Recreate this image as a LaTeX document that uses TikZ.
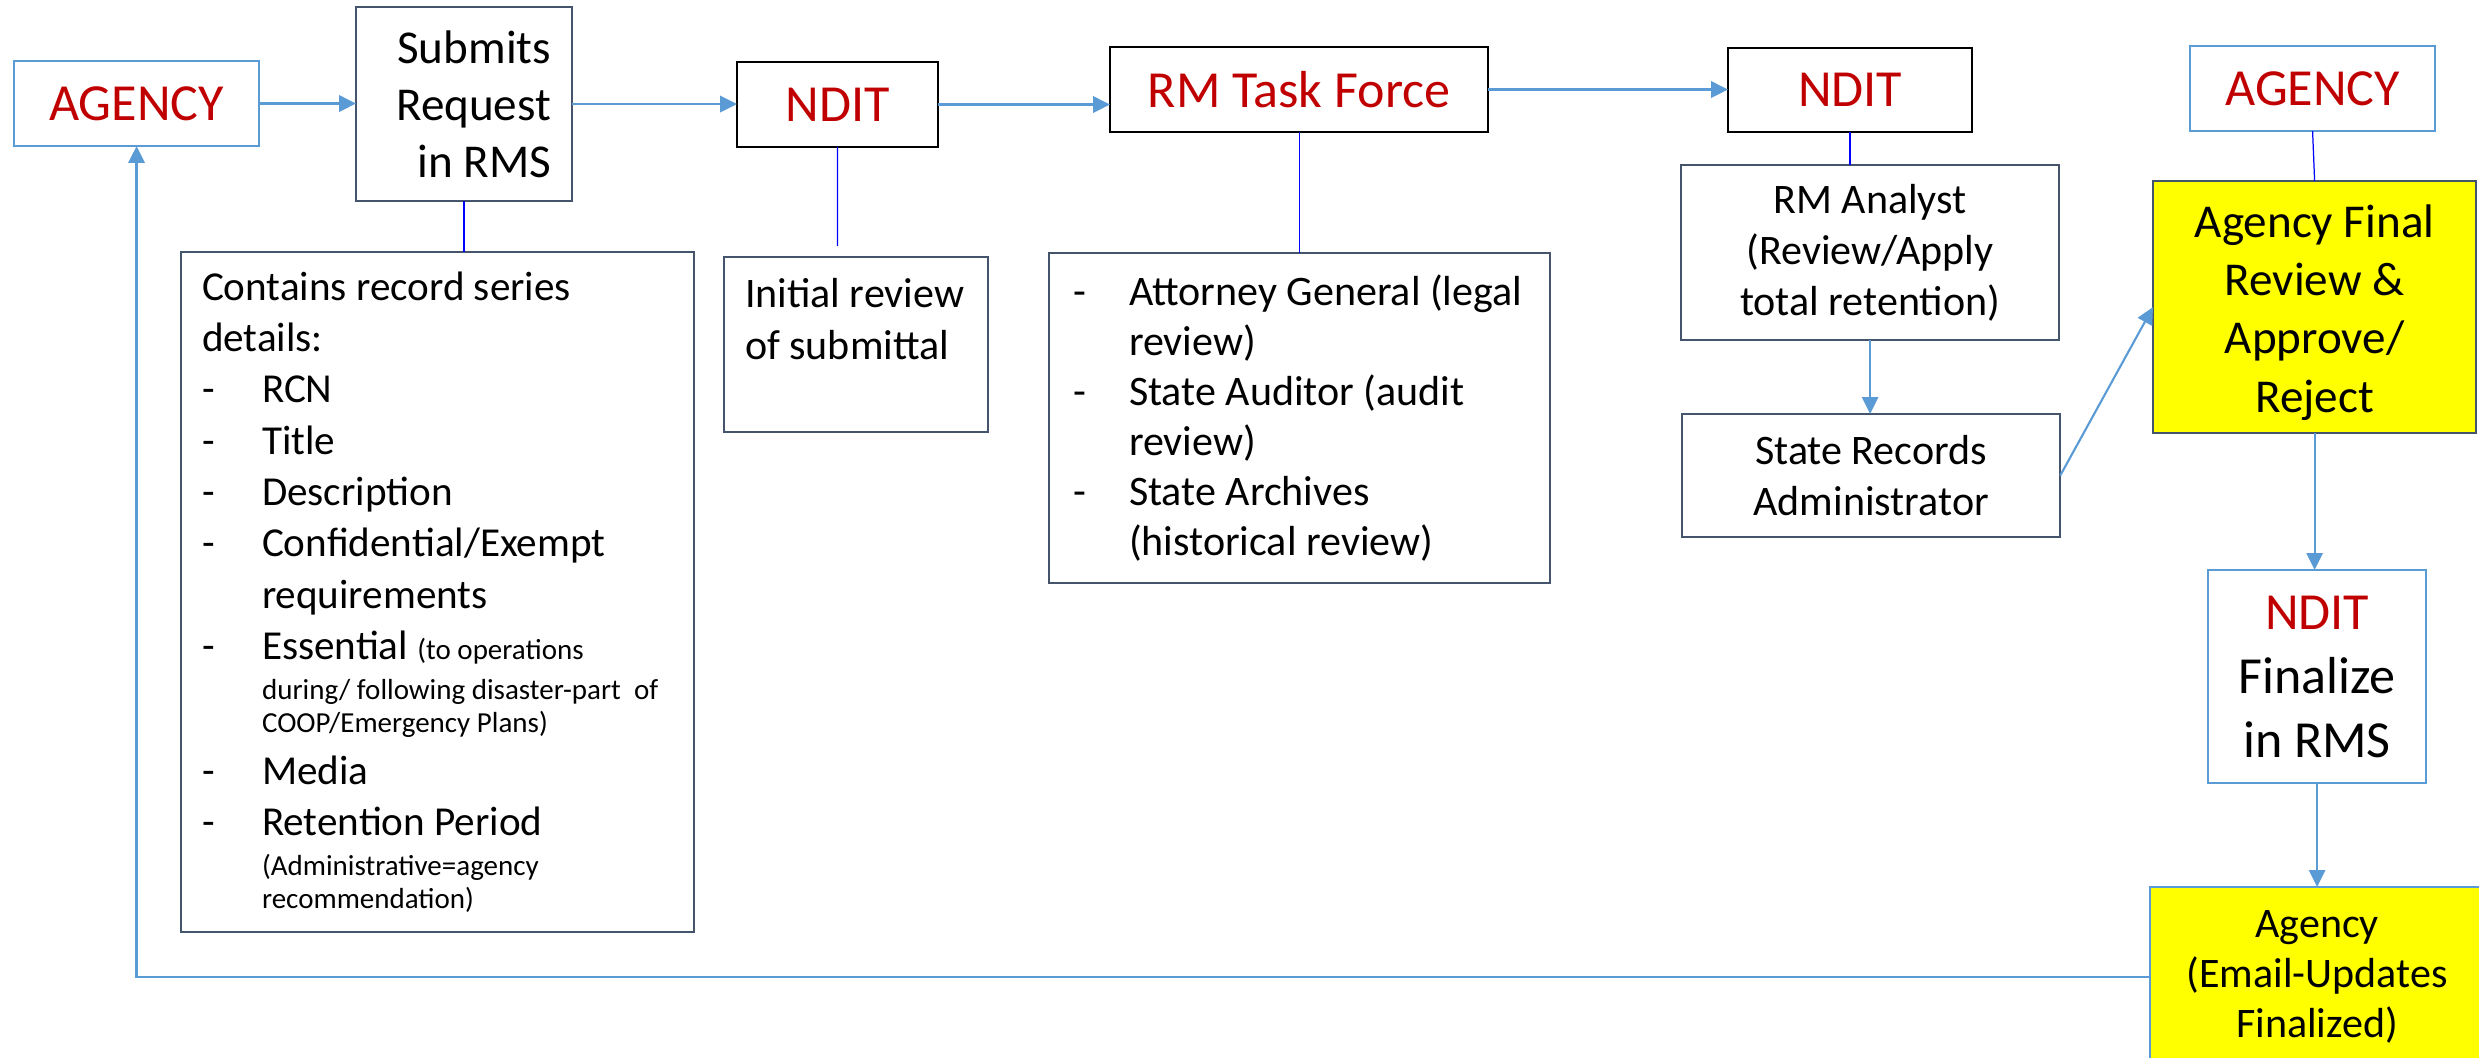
\documentclass[tikz,border=0pt]{standalone}
\usepackage{fontspec}
\setmainfont{Carlito}
\usetikzlibrary{arrows.meta}
\definecolor{redtxt}{HTML}{C00000}
\definecolor{lblue}{HTML}{5B9BD5}
\definecolor{slate}{HTML}{44546A}
\definecolor{yel}{HTML}{FFFF00}
\definecolor{thinblue}{HTML}{0000FF}
\newcommand\myfA{\fontsize{14.8}{18.2}\selectfont}
\newcommand\myfB{\fontsize{13.4}{16.2}\selectfont}
\newcommand\myfF{\fontsize{13.4}{16.6}\selectfont}
\newcommand\myfC{\fontsize{11.95}{14.5}\selectfont}
\newcommand\myfInit{\fontsize{11.95}{14.8}\selectfont}
\newcommand\myfAtt{\fontsize{11.95}{14.2}\selectfont}
\newcommand\myfAg{\fontsize{11.95}{14.2}\selectfont}
\newcommand\myfD{\fontsize{11.7}{14.6}\selectfont}
\newcommand\myfE{\fontsize{8.25}{9.4}\selectfont}
% a block of stacked lines of width #1
\newcommand\vlines[2]{\vtop{\hsize=#1\relax #2}}
% one line of text, indented by #1, as wide as the block
\newcommand\myline[2]{\hbox to \hsize{\hskip#1\relax #2\hfil}}
\newcommand\myrline[1]{\hbox to \hsize{\hfil #1}}
\newcommand\mycline[1]{\hbox to \hsize{\hfil #1\hfil}}
\newcommand\dashD{\makebox[0.6cm][l]{-}}
\newcommand\dashT{\makebox[0.56cm][l]{-}}
\begin{document}
\begin{tikzpicture}[x=0.01cm,y=-0.01cm,
  every node/.style={inner sep=0pt, outer sep=0pt},
  rbox/.style={rectangle, anchor=north west, line width=0.6pt, draw=slate},
  kbox/.style={rbox, draw=black},
  lbox/.style={rbox, draw=lblue},
  arr/.style={draw=lblue, line width=0.8pt, -{Triangle[length=4.8pt,width=4.6pt]}},
  arrv/.style={arr, line width=0.6pt},
  link/.style={draw=thinblue, line width=0.35pt}
]
\useasboundingbox (0,0) rectangle (2479,1058);
\clip (0,0) rectangle (2479,1058);

\node[lbox, minimum width=2.45cm, minimum height=0.85cm, font=\myfA, text=redtxt] (agency1) at (14,61) {AGENCY};

\node[rbox, minimum width=2.16cm, minimum height=1.94cm, inner xsep=0.21cm, font=\myfB] (submits) at (356,7) {\vlines{1.74cm}{\myrline{Submits}\myrline{Request}\myrline{in RMS}}};

\node[rbox, minimum width=5.13cm, minimum height=6.80cm, inner xsep=0.16cm, font=\myfD] (details) at (181,252) {\vlines{4.81cm}{%
\myline{0.05cm}{Contains record series}%
\myline{0.05cm}{details:}%
\myline{0.05cm}{\dashD RCN}%
\myline{0.05cm}{\dashD Title}%
\myline{0.05cm}{\dashD Description}%
\myline{0.05cm}{\dashD Confidential/Exempt}%
\myline{0.65cm}{requirements}%
\myline{0.05cm}{\dashD Essential {\myfE(to operations}}%
\vskip 2pt
{\myfE\myline{0.65cm}{during/ following disaster-part\ \ of}%
\myline{0.65cm}{COOP/Emergency Plans)}}%
\myline{0.05cm}{\dashD Media}%
\myline{0.05cm}{\dashD Retention Period}%
\vskip 2pt
{\myfE\myline{0.65cm}{(Administrative=agency}%
\myline{0.65cm}{recommendation)}}%
}};

\node[kbox, minimum width=2.01cm, minimum height=0.85cm, font=\myfA, text=redtxt] (ndit1) at (737,62) {NDIT};

\node[rbox, minimum width=2.64cm, minimum height=1.75cm, inner xsep=0.15cm, font=\myfInit] (initrev) at (724,257) {\vlines{2.34cm}{\myline{0.06cm}{Initial review}\myline{0.06cm}{of submittal}\hbox{}}};

\node[kbox, minimum width=3.78cm, minimum height=0.85cm, font=\myfA, text=redtxt] (rmtf) at (1110,47) {RM Task Force};

\node[rbox, minimum width=5.01cm, minimum height=3.30cm, inner xsep=0.16cm, font=\myfAtt] (attorney) at (1049,253) {\vlines{4.69cm}{%
\myline{0.08cm}{\dashT Attorney General (legal}%
\myline{0.64cm}{review)}%
\myline{0.08cm}{\dashT State Auditor (audit}%
\myline{0.64cm}{review)}%
\myline{0.08cm}{\dashT State Archives}%
\myline{0.64cm}{(historical review)}%
}};

\node[kbox, minimum width=2.44cm, minimum height=0.84cm, font=\myfA, text=redtxt] (ndit2) at (1728,48) {NDIT};

\node[rbox, minimum width=3.78cm, minimum height=1.75cm, align=center, font=\myfC] (rmanalyst) at (1681,165) {RM Analyst\\(Review/Apply\\total retention)};

\node[rbox, minimum width=3.78cm, minimum height=1.23cm, align=center, font=\myfC] (staterec) at (1682,414) {State Records\\Administrator};

\node[lbox, minimum width=2.45cm, minimum height=0.85cm, font=\myfA, text=redtxt] (agency2) at (2190,46) {AGENCY};

\node[rbox, fill=yel, minimum width=3.23cm, minimum height=2.52cm, inner xsep=0.1cm, font=\myfF] (agfinal) at (2153,181) {\vlines{3.03cm}{\vskip 3pt\mycline{Agency Final}\mycline{Review \&}\mycline{Approve/}\mycline{Reject}}};

\node[lbox, minimum width=2.18cm, minimum height=2.13cm, align=center, font=\myfA] (ndit3) at (2208,570) {\textcolor{redtxt}{NDIT}\\Finalize\\in RMS};

\node[lbox, fill=yel, minimum width=3.34cm, minimum height=1.80cm, align=center, font=\myfAg] (agency3) at (2150,887) {Agency\\(Email-Updates\\Finalized)};

% connectors
\draw[arr] (agency1.east) -- (agency1.east -| submits.west);
\draw[arr] (submits.east) -- (submits.east -| ndit1.west);
\draw[arr] (ndit1.east) -- (ndit1.east -| rmtf.west);
\draw[arr] (rmtf.east) -- (rmtf.east -| ndit2.west);

\coordinate (initend) at (837.5,246);
\draw[link] (submits.south) -- (submits.south |- details.north);
\draw[link] (ndit1.south) -- (initend);
\draw[link] (rmtf.south) -- (rmtf.south |- attorney.north);
\draw[link] (ndit2.south) -- (ndit2.south |- rmanalyst.north);
\draw[link] (agency2.south) -- (agfinal.north);

\draw[arrv] (rmanalyst.south) -- (rmanalyst.south |- staterec.north);
\draw[arrv] (staterec.east) -- (agfinal.west);
\draw[arrv] (agfinal.south) -- (agfinal.south |- ndit3.north);
\draw[arrv] (ndit3.south) -- (ndit3.south |- agency3.north);
\draw[arr] (agency3.west) -| (agency1.south);
\end{tikzpicture}
\end{document}
